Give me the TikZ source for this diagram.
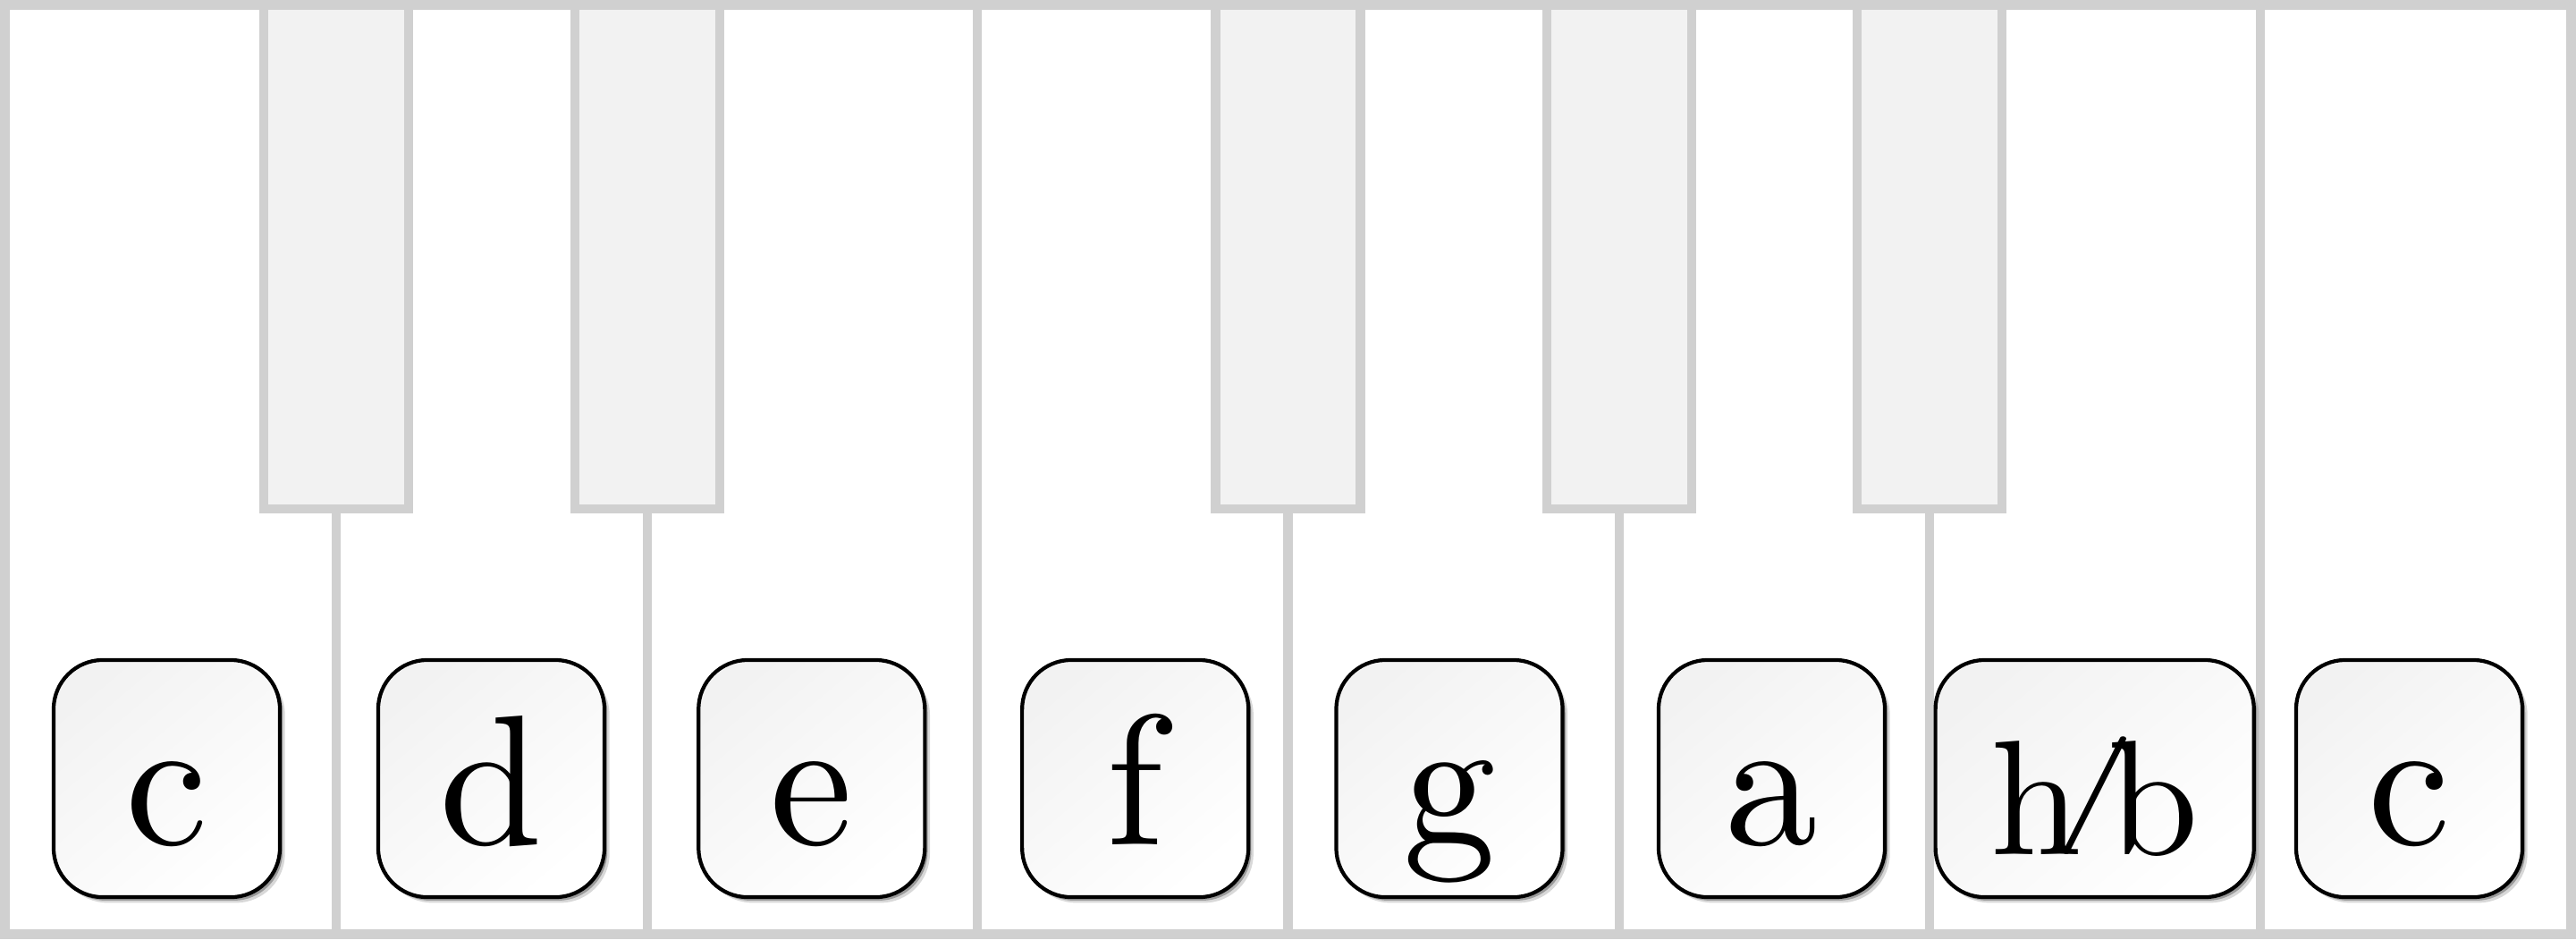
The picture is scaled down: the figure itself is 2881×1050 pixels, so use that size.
\documentclass[tikz,border=0pt]{standalone}
\usepackage{fontspec}
\usepackage{xcolor}
\definecolor{keyline}{RGB}{208,208,208}
\definecolor{blackkey}{RGB}{242,242,242}
\newfontfamily\notefont{lmroman10-regular}[Extension=.otf]
\usetikzlibrary{shadows}

\begin{document}
\begin{tikzpicture}[x=0.01cm,y=-0.01cm,
  keyedge/.style={draw=keyline,line width=3pt},
  notebox/.style={draw,line width=1.2pt,rounded corners=0.55cm,
    minimum width=2.53cm,minimum height=2.65cm,
    top color=black!5,bottom color=white,shading angle=40,
    drop shadow={shadow xshift=1.6pt,shadow yshift=-1.8pt,opacity=0.3},
    drop shadow={shadow xshift=0.9pt,shadow yshift=-1.1pt,opacity=0.7},
    font=\notefont\fontsize{59}{60}\selectfont,text height=1.47cm,text depth=0pt}]
\useasboundingbox (0,0) rectangle (2881,1050);
\fill[white] (5.5,5.5) rectangle (2875.5,1044.5);
\foreach \k in {376,724,1440.5,1811,2158}
  \draw[keyedge] (\k,569) -- (\k,1044.5);
\foreach \k in {1093,2528}
  \draw[keyedge] (\k,5.5) -- (\k,1044.5);
\foreach \k in {376,724,1440.5,1811,2158}
  \draw[keyedge,fill=blackkey] ({\k-81},5.5) rectangle ({\k+81},569);
\draw[keyedge] (5.5,5.5) rectangle (2875.5,1044.5);
\node[notebox] (c1) at (186.5,870.5) {c};
\node[notebox] (d) at (549.5,870.5) {d};
\node[notebox] (e) at (907.8,870.5) {e};
\node[notebox] (f) at (1269.7,870.5) {f};
\node[notebox] (g) at (1621,870.5) {g};
\node[notebox] (a) at (1981.5,870.5) {a};
\node[notebox,minimum width=3.56cm,font=\notefont\fontsize{52}{53}\selectfont,text height=1.69cm] (hb) at (2342.7,870.5)
  {h\kern-0.17em\raisebox{0.18em}{\scalebox{1}[0.72]{/}}\kern-0.17em b};
\node[notebox] (c2) at (2694.5,870.5) {c};
\end{tikzpicture}
\end{document}
